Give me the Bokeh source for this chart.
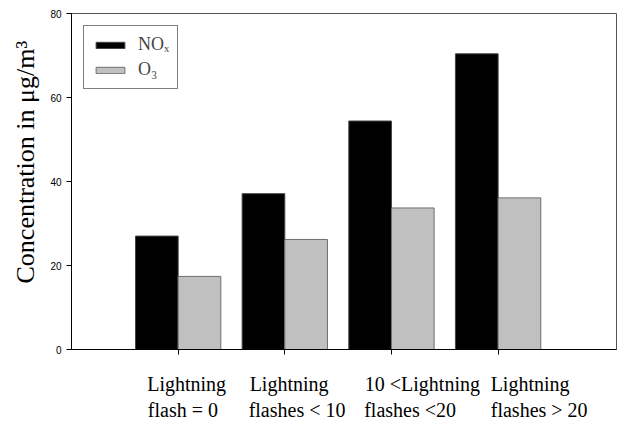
import numpy as np
from bokeh.plotting import figure
from bokeh.models import (ColumnDataSource, Legend, LegendItem, Range1d, Title,
                          FixedTicker, LinearAxis)
from bokeh.transform import dodge
from bokeh.embed import file_html
from bokeh.resources import INLINE

# ---- data ----
label_line1 = ["Lightning", "Lightning", "10 <Lightning", "Lightning"]
label_line2 = ["flash = 0", "flashes < 10", "flashes <20", "flashes > 20"]
nox = [27.0, 37.1, 54.4, 70.4]
o3 = [17.4, 26.2, 33.7, 36.1]
y_ticks = [0, 20, 40, 60, 80]

# ---- layout helpers (not data): centre of each label line, relative to its category ----
line1_dx = [0.08, 0.04, 0.29, 0.30]
line2_dx = [0.045, 0.115, 0.175, 0.385]

xpos = list(range(len(nox)))
src = ColumnDataSource(dict(x=xpos, nox=nox, o3=o3))

p = figure(width=618, height=423, x_range=Range1d(-1, 4.11), y_range=Range1d(0, 80),
           output_backend="svg", toolbar_location=None,
           min_border_left=70, min_border_right=2, min_border_top=13, min_border_bottom=60)

r1 = p.vbar(x=dodge("x", -0.2), top="nox", width=0.4, source=src,
            fill_color="black", line_color="#444444", line_width=1)
r2 = p.vbar(x=dodge("x", 0.2), top="o3", width=0.4, source=src,
            fill_color="#c0c0c0", line_color="#6e6e6e", line_width=1)

p.xgrid.visible = False
p.ygrid.visible = False
p.outline_line_color = "#555555"
p.outline_line_width = 1
p.background_fill_color = "white"

# main x axis: tick marks only
p.xaxis.ticker = FixedTicker(ticks=xpos)
p.xaxis.major_label_overrides = {i: "" for i in xpos}
p.xaxis.major_label_text_font_size = "1px"
p.xaxis.major_label_standoff = 0
p.xaxis.major_tick_in = 0
p.xaxis.major_tick_out = 5
p.xaxis.minor_tick_line_color = None
p.xaxis.axis_line_color = "black"
p.xaxis.major_tick_line_color = "black"


def label_axis(lines, dxs, standoff):
    ticks = [xpos[i] + dxs[i] for i in range(len(xpos))]
    return LinearAxis(ticker=FixedTicker(ticks=ticks),
                      major_label_overrides={t: s for t, s in zip(ticks, lines)},
                      major_label_text_font="Liberation Serif",
                      major_label_text_font_size="20px",
                      major_label_text_color="black",
                      major_label_standoff=standoff,
                      axis_line_color=None, major_tick_line_color=None,
                      minor_tick_line_color=None, major_tick_in=0, major_tick_out=0,
                      minor_tick_in=0, minor_tick_out=0)


p.add_layout(label_axis(label_line1, line1_dx, 18), "below")
p.add_layout(label_axis(label_line2, line2_dx, 1), "below")

# y axis
p.yaxis.ticker = FixedTicker(ticks=y_ticks)
p.yaxis.major_tick_in = 0
p.yaxis.major_tick_out = 5
p.yaxis.minor_tick_line_color = None
p.yaxis.axis_line_color = "black"
p.yaxis.major_tick_line_color = "black"
p.yaxis.major_label_text_font = "Liberation Sans"
p.yaxis.major_label_text_font_size = "10px"
p.yaxis.major_label_text_color = "black"
p.yaxis.major_label_standoff = 5

# y label as a side title
p.add_layout(Title(text="Concentration in \u03bcg/m\u00b3", align="left", offset=66,
                   text_font="Liberation Serif", text_font_size="26px",
                   text_font_style="normal", text_color="black", standoff=16), "left")

legend = Legend(items=[LegendItem(label="NO\u2093", renderers=[r1]),
                       LegendItem(label="O\u2083", renderers=[r2])],
                location="top_left", margin=12, padding=8, spacing=4,
                glyph_width=36, glyph_height=8, label_height=19, label_standoff=10,
                label_text_font="Liberation Serif", label_text_font_size="18px",
                border_line_color="black", border_line_width=1,
                background_fill_color="white", background_fill_alpha=1)
p.add_layout(legend)

open("out.html", "w").write(file_html(p, INLINE))
